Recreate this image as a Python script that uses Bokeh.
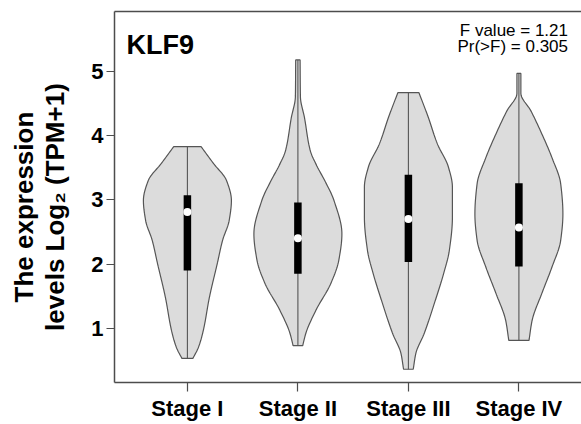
import numpy as np
from bokeh.plotting import figure
from bokeh.layouts import row
from bokeh.models import Label, LinearAxis, FixedTicker, Range1d
from bokeh.embed import file_html
from bokeh.resources import INLINE

# ---------------- data ----------------
gene = "KLF9"
categories = ["Stage I", "Stage II", "Stage III", "Stage IV"]
f_value = 1.21
p_value = 0.305
y_ticks = [1, 2, 3, 4, 5]
y_title_lines = ["The expression", "levels Log\u2082 (TPM+1)"]

q1 = [1.90, 1.85, 2.03, 1.96]
q3 = [3.07, 2.96, 3.39, 3.26]
medians = [2.81, 2.40, 2.70, 2.57]
mins = [0.53, 0.73, 0.36, 0.81]
maxs = [3.83, 5.18, 4.67, 4.97]

# violin outlines: expression level and relative density (1 = widest)
stage1_levels = [3.83, 3.57, 3.30, 2.99, 2.68, 2.37, 2.01, 1.48, 0.96, 0.70, 0.53]
stage1_density = [0.31, 0.59, 0.89, 1.00, 0.95, 0.80, 0.68, 0.50, 0.36, 0.25, 0.125]

stage2_levels = [5.18, 4.61, 4.28, 3.77, 3.53, 3.30, 2.99, 2.47, 2.06, 1.70, 1.28, 0.92, 0.73]
stage2_density = [0.05, 0.057, 0.15, 0.28, 0.43, 0.61, 0.82, 1.00, 0.93, 0.75, 0.41, 0.18, 0.11]

stage3_levels = [4.67, 4.29, 3.87, 3.51, 3.20, 2.73, 2.21, 1.85, 1.43, 0.92, 0.61, 0.36]
stage3_density = [0.24, 0.45, 0.66, 0.91, 1.00, 1.00, 0.93, 0.80, 0.61, 0.36, 0.17, 0.11]

stage4_levels = [4.97, 4.66, 4.39, 4.03, 3.66, 3.25, 2.78, 2.37, 1.95, 1.54, 1.12, 0.81]
stage4_density = [0.045, 0.045, 0.27, 0.52, 0.75, 0.95, 1.00, 0.95, 0.75, 0.52, 0.30, 0.23]

violin_levels = [stage1_levels, stage2_levels, stage3_levels, stage4_levels]
violin_density = [stage1_density, stage2_density, stage3_density, stage4_density]

# ---------------- layout / style ----------------
W, H = 581, 424
LEFT_W = 80           # width of the strip holding the y-axis title
PX_X = 110.5          # pixels per category step
X1_PAGE = 186.9       # page x of first category
PX_Y = 64.17          # pixels per unit on y
Y1_PAGE = 327.7       # page y of value 1
FRAME_L, FRAME_T, FRAME_B, FRAME_R = 114, 11, 382, 581


def px_to_x(px):
    return 1 + (px - X1_PAGE) / PX_X


def py_to_y(py):
    return 1 + (Y1_PAGE - py) / PX_Y


HALF_W = 44 / PX_X
FILL = "#DCDCDC"
EDGE = "#555555"
FRAME = "#4D4D4D"
FONT = "Liberation Sans"


def pchip(xk, yk, xs):
    xk = np.asarray(xk, float)
    yk = np.asarray(yk, float)
    h = np.diff(xk)
    d = np.diff(yk) / h
    n = len(xk)
    m = np.zeros(n)
    for i in range(1, n - 1):
        if d[i - 1] * d[i] > 0:
            w1 = 2 * h[i] + h[i - 1]
            w2 = h[i] + 2 * h[i - 1]
            m[i] = (w1 + w2) / (w1 / d[i - 1] + w2 / d[i])
    m[0] = d[0]
    m[-1] = d[-1]
    out = np.empty_like(xs)
    idx = np.clip(np.searchsorted(xk, xs) - 1, 0, n - 2)
    for j, x in enumerate(xs):
        i = idx[j]
        t = (x - xk[i]) / h[i]
        h00 = 2 * t**3 - 3 * t**2 + 1
        h10 = t**3 - 2 * t**2 + t
        h01 = -2 * t**3 + 3 * t**2
        h11 = t**3 - t**2
        out[j] = h00 * yk[i] + h10 * h[i] * m[i] + h01 * yk[i + 1] + h11 * h[i] * m[i + 1]
    return np.maximum(out, 0)


positions = [1, 2, 3, 4]

p = figure(width=W - LEFT_W, height=H, output_backend="svg", toolbar_location=None,
           x_range=Range1d(px_to_x(FRAME_L), px_to_x(FRAME_R)),
           y_range=Range1d(py_to_y(FRAME_B), py_to_y(FRAME_T)),
           min_border_left=FRAME_L - LEFT_W, min_border_right=0,
           min_border_top=FRAME_T, min_border_bottom=H - FRAME_B)
p.outline_line_color = None
p.xgrid.grid_line_color = None
p.ygrid.grid_line_color = None
p.background_fill_color = "white"
p.border_fill_color = "white"

# violins
xs_all, ys_all = [], []
for c, lv, dn in zip(positions, violin_levels, violin_density):
    lv_a = np.asarray(lv)[::-1]
    dn_a = np.asarray(dn)[::-1]
    vs = np.linspace(lv_a[0], lv_a[-1], 160)
    ws = pchip(lv_a, dn_a, vs) * HALF_W
    xs_all.append(list(np.concatenate([c + ws, (c - ws)[::-1]])))
    ys_all.append(list(np.concatenate([vs, vs[::-1]])))
p.patches(xs=xs_all, ys=ys_all, fill_color=FILL, line_color=EDGE, line_width=1.2)

p.segment(x0=positions, y0=mins, x1=positions, y1=maxs, line_color=EDGE, line_width=1.1)
p.vbar(x=positions, width=7.5 / PX_X, bottom=q1, top=q3, fill_color="black", line_color=None)
p.scatter(x=positions, y=medians, size=8, fill_color="white", line_color=None)

# axes
p.xaxis.ticker = FixedTicker(ticks=positions)
p.xaxis.major_label_overrides = {pos: lab for pos, lab in zip(positions, categories)}
p.yaxis.ticker = FixedTicker(ticks=y_ticks)
for ax in (p.xaxis[0], p.yaxis[0]):
    ax.axis_line_color = FRAME
    ax.axis_line_width = 1.5
    ax.major_tick_line_color = FRAME
    ax.major_tick_line_width = 1.2
    ax.major_tick_in = 0
    ax.minor_tick_line_color = None
    ax.major_label_text_font = FONT
    ax.major_label_text_font_style = "bold"
    ax.major_label_text_font_size = "22px"
    ax.major_label_text_color = "black"
p.yaxis.major_tick_out = 8
p.yaxis.major_label_standoff = 3
p.xaxis.major_tick_out = 9
p.xaxis.major_label_standoff = 4

top_axis = LinearAxis(ticker=FixedTicker(ticks=[]), major_tick_out=0, major_tick_in=0,
                      minor_tick_line_color=None, major_label_text_font_size="0px",
                      axis_line_color=FRAME, axis_line_width=1.5)
p.add_layout(top_axis, "above")

# texts inside the plot
p.add_layout(Label(x=px_to_x(126), y=py_to_y(44), text=gene, text_font=FONT,
                   text_font_style="bold", text_font_size="27px", text_color="black",
                   text_align="left", text_baseline="alphabetic"))
p.add_layout(Label(x=px_to_x(567.5), y=py_to_y(29.5), text=f"F value = {f_value}",
                   text_font=FONT, text_font_size="17px", text_color="black",
                   text_align="right", text_baseline="alphabetic"))
p.add_layout(Label(x=px_to_x(567.5), y=py_to_y(45.5), text=f"Pr(>F) = {p_value}",
                   text_font=FONT, text_font_size="17px", text_color="black",
                   text_align="right", text_baseline="alphabetic"))

# ---------------- y-axis title strip (page pixel coordinates) ----------------
t = figure(width=LEFT_W, height=H, output_backend="svg", toolbar_location=None,
           x_range=Range1d(0, LEFT_W), y_range=Range1d(H, 0),
           min_border_left=0, min_border_right=0, min_border_top=0, min_border_bottom=0,
           x_axis_type=None, y_axis_type=None)
t.outline_line_color = None
t.grid.visible = False
t.background_fill_color = "white"
t.border_fill_color = "white"

TITLE_MID_Y = 223.5
for line, cx in zip(y_title_lines, [23, 54]):
    t.add_layout(Label(x=cx, y=TITLE_MID_Y, text=line, angle=np.pi / 2,
                       text_font=FONT, text_font_style="bold", text_font_size="26px",
                       text_color="black", text_align="center", text_baseline="middle"))

layout = row(t, p, spacing=0)
open("out.html", "w").write(file_html(layout, INLINE))
